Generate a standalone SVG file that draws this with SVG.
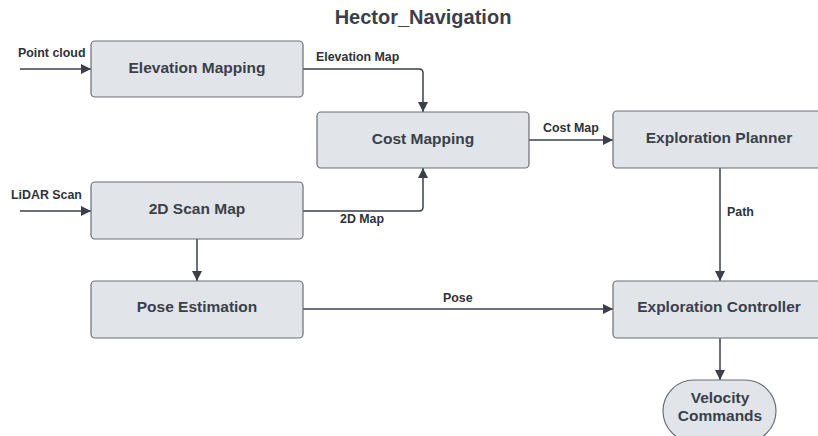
<svg xmlns="http://www.w3.org/2000/svg" width="818" height="436" viewBox="0 0 818 436">
<defs>
<marker id="ah" markerWidth="10" markerHeight="10" refX="10" refY="5" orient="auto" markerUnits="userSpaceOnUse">
<path d="M0,0 L10,5 L0,10 z" fill="#3a3f4a"/>
</marker>
<style>
.box{fill:#e1e4e9;stroke:#6b6e75;stroke-width:1.2}
.nt{font-family:"Liberation Sans",Arial,sans-serif;font-weight:bold;font-size:15.5px;fill:#3a3f4a;text-anchor:middle;dominant-baseline:central}
.el{font-family:"Liberation Sans",Arial,sans-serif;font-weight:bold;font-size:12.4px;fill:#2e323a}
.cn{fill:none;stroke:#3a3f4a;stroke-width:1.5;marker-end:url(#ah)}
</style>
</defs>
<rect width="818" height="436" fill="#ffffff"/>
<text x="423" y="24" style="font-family:'Liberation Sans',Arial,sans-serif;font-weight:bold;font-size:20px;fill:#3a3f4a;text-anchor:middle">Hector_Navigation</text>
<g id="connectors">
<path class="cn" d="M20,69 L91,69"/>
<path class="cn" d="M303,69 L419,69 Q423,69 423,73 L423,112"/>
<path class="cn" d="M529,140 L613,140"/>
<path class="cn" d="M20,211 L91,211"/>
<path class="cn" d="M303,211 L419,211 Q423,211 423,207 L423,168"/>
<path class="cn" d="M197,239 L197,281"/>
<path class="cn" d="M303,309 L613,309"/>
<path class="cn" d="M720,168 L720,281"/>
<path class="cn" d="M720,338 L720,380"/>
<text class="el" x="18" y="57">Point cloud</text>
<text class="el" x="316" y="61">Elevation Map</text>
<text class="el" x="543" y="132">Cost Map</text>
<text class="el" x="11" y="199">LiDAR Scan</text>
<text class="el" x="340" y="223">2D Map</text>
<text class="el" x="443" y="302">Pose</text>
<text class="el" x="727" y="216">Path</text>
</g>
<g id="elevation-mapping">
<rect class="box" x="91" y="41" width="212" height="56" rx="4"/>
<text class="nt" x="197" y="67">Elevation Mapping</text>
</g>
<g id="cost-mapping">
<rect class="box" x="317" y="112" width="212" height="56" rx="4"/>
<text class="nt" x="423" y="138">Cost Mapping</text>
</g>
<g id="exploration-planner">
<rect class="box" x="613" y="111" width="212" height="57" rx="4"/>
<text class="nt" x="719" y="137">Exploration Planner</text>
</g>
<g id="scan-map">
<rect class="box" x="91" y="182" width="212" height="57" rx="4"/>
<text class="nt" x="197" y="208">2D Scan Map</text>
</g>
<g id="pose-estimation">
<rect class="box" x="91" y="281" width="212" height="57" rx="4"/>
<text class="nt" x="197" y="306">Pose Estimation</text>
</g>
<g id="exploration-controller">
<rect class="box" x="613" y="281" width="212" height="57" rx="4"/>
<text class="nt" x="719" y="306">Exploration Controller</text>
</g>
<g id="velocity-commands">
<rect class="box" x="663" y="380" width="113" height="62" rx="31"/>
<text class="nt" x="720" y="397">Velocity</text>
<text class="nt" x="720" y="415">Commands</text>
</g>
</svg>
